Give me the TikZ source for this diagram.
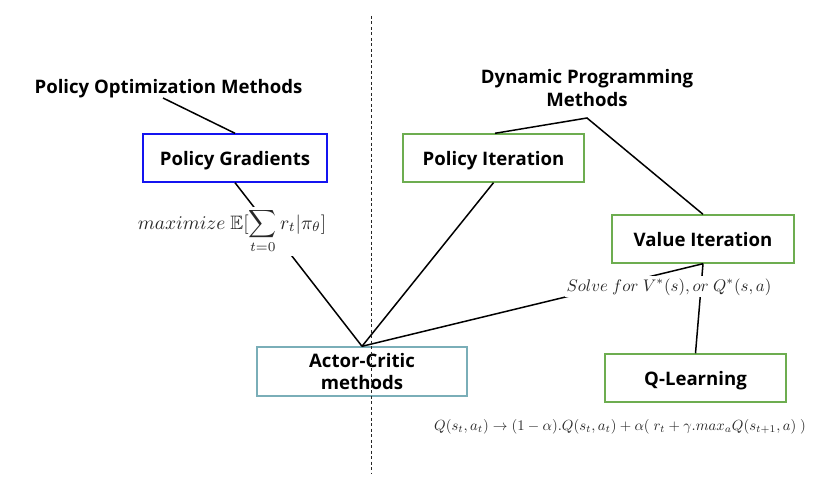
\documentclass[tikz,border=0pt]{standalone}
\usepackage{amsmath,amssymb}
\usepackage{graphicx}
\usepackage[no-math]{fontspec}
\setmainfont{Open Sans}
\usetikzlibrary{calc}
\definecolor{pgblue}{HTML}{1414F0}
\definecolor{dpgreen}{HTML}{6DAD50}
\definecolor{acteal}{HTML}{7AAEB8}
\definecolor{mathgray}{HTML}{282828}
\begin{document}
\begin{tikzpicture}[x=1pt,y=-1pt,
  box/.style={draw,line width=1.4pt,inner sep=0pt,align=center,
    font=\fontsize{18.6}{22}\selectfont\bfseries},
  onebox/.style={box,text depth=0pt},
  head/.style={inner sep=0pt,align=center,font=\fontsize{18.6}{22.5}\selectfont\bfseries},
  conn/.style={line width=1.5pt,black},
  mlabel/.style={fill=white,inner sep=2pt,text=mathgray}]
\useasboundingbox (0,0) rectangle (836,495);
% headings
\node[head,anchor=base] (pom) at (168.5,93) {Policy Optimization Methods};
\node[head] (dp) at (587,88) {Dynamic Programming\\Methods};
% boxes
\node[onebox,draw=pgblue,minimum width=184pt,minimum height=48pt] (pg) at (235,158) {Policy Gradients};
\node[onebox,draw=dpgreen,minimum width=181pt,minimum height=48pt] (pi) at (493.5,158) {Policy Iteration};
\node[onebox,draw=dpgreen,minimum width=182pt,minimum height=48pt] (vi) at (703,239) {Value Iteration};
\node[onebox,draw=dpgreen,minimum width=181pt,minimum height=48pt] (ql) at (695.5,378) {Q-Learning};
\node[box,draw=acteal,minimum width=210pt,minimum height=49pt] (ac) at (362,371.5) {Actor-Critic\\methods};
% junction coordinates
\coordinate (pomend) at (163,98);
\coordinate (dpj) at (587,118);
\coordinate (dtop) at (371,16);
\coordinate (dbot) at (371,474);
% connectors
\draw[conn] (pomend) -- (pg.north);
\draw[conn] (pi.north -| 495,0) -- (dpj) -- (vi.north);
\draw[conn] (pg.south) -- (ac.north);
\draw[conn] (pi.south) -- (ac.north);
\draw[conn] (ac.north) -- (vi.south);
\draw[conn] (vi.south) -- (ql.north);
% labels on connectors
\node[mlabel,anchor=base] (maxl) at (232,229)
  {\scalebox{1.94}{$\displaystyle maximize\ \mathbb{E}[\sum_{t=0} r_t|\pi_\theta]$}};
\node[mlabel,anchor=base] (solvel) at (669,291)
  {\scalebox{1.68}{$Solve\ for\ V^*(s), or\ Q^*(s,a)$}};
\node[text=mathgray,inner sep=1pt,anchor=base] (qform) at (620,430)
  {\scalebox{1.47}{$Q(s_t,a_t) \rightarrow (1-\alpha).Q(s_t,a_t) + \alpha(\ r_t + \gamma.max_aQ(s_{t+1},a)\ )$}};
% divider
\draw[line width=1pt,black!85,dash pattern=on 3pt off 2.5pt] (dtop) -- (dbot);
\end{tikzpicture}
\end{document}
